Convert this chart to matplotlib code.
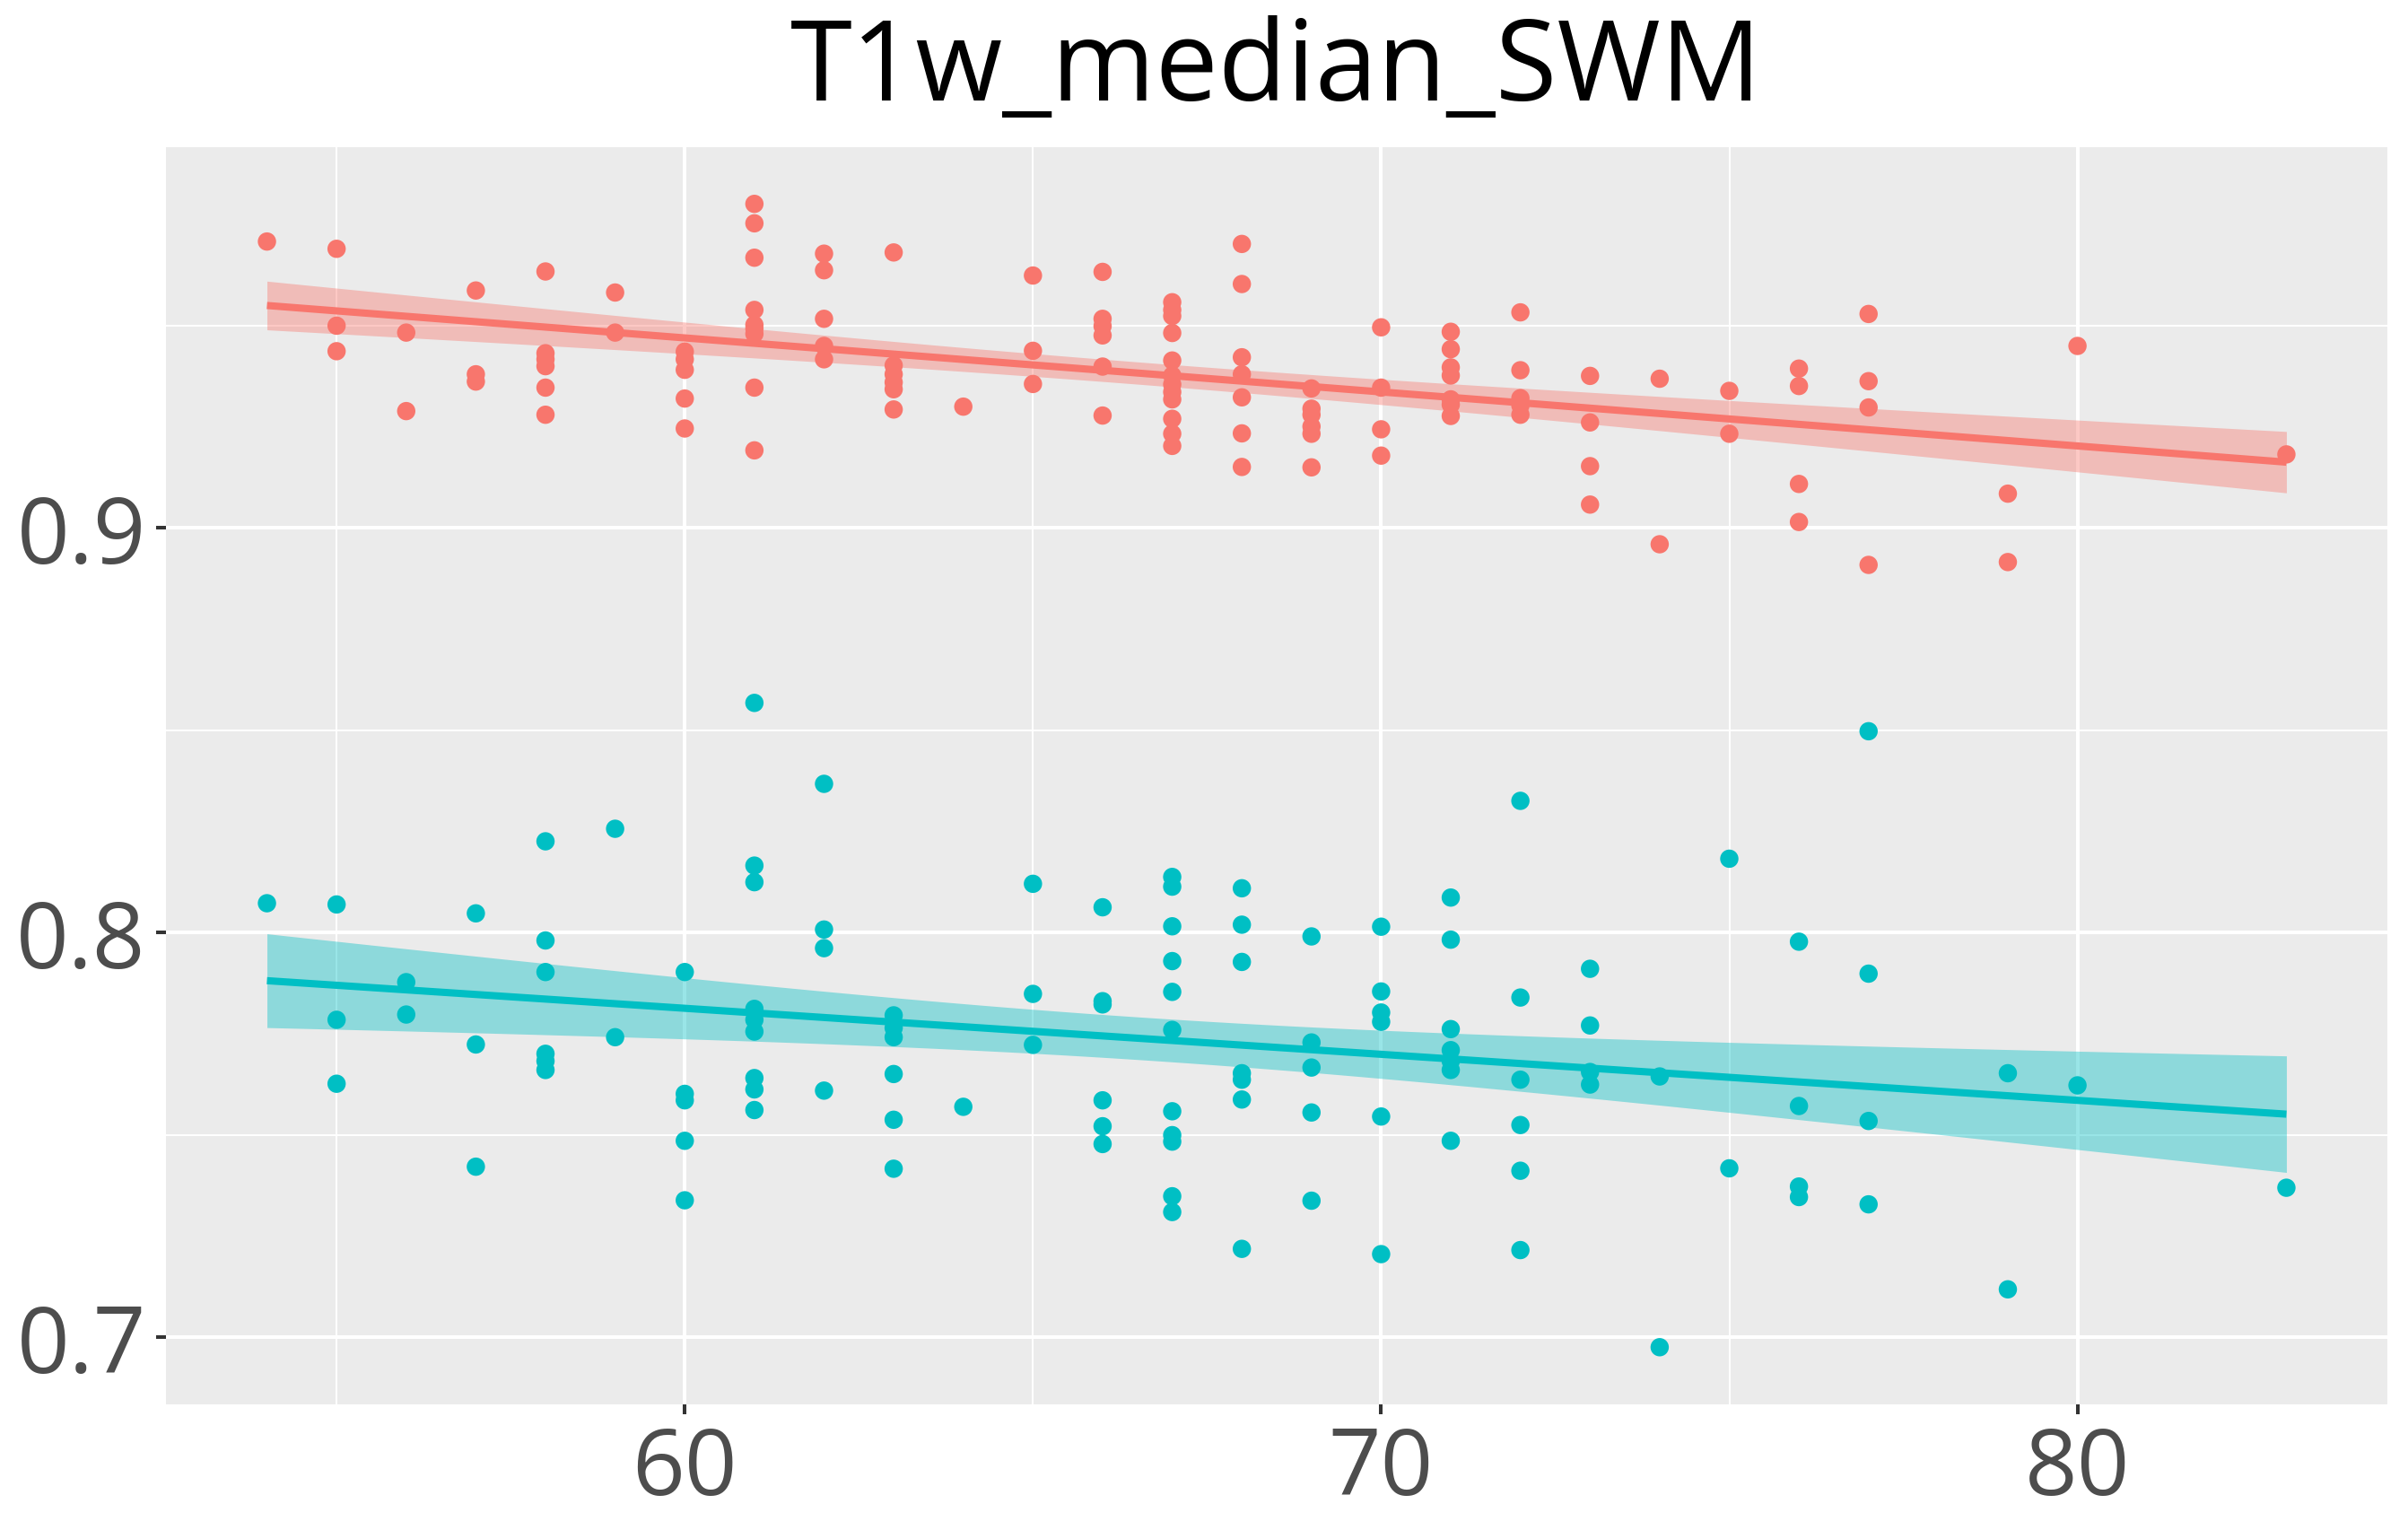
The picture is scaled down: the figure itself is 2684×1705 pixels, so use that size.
import numpy as np
import matplotlib
matplotlib.use("Agg")
import matplotlib.pyplot as plt

# ---------------- data ----------------
title = "T1w_median_SWM"

red_ages = [54, 55, 56, 57, 58, 59, 60, 61, 62, 63, 64, 65, 66, 67, 68, 69, 70,
            71, 72, 73, 74, 75, 76, 77, 79, 80, 83]
red_values = [
    [0.9708],
    [0.969, 0.950, 0.9437],
    [0.9483, 0.9289],
    [0.9587, 0.938, 0.9362],
    [0.9634, 0.9432, 0.9417, 0.940, 0.9347, 0.928],
    [0.9582, 0.9483],
    [0.9436, 0.9417, 0.9391, 0.932, 0.9246],
    [0.9801, 0.9753, 0.9668, 0.9539, 0.9502, 0.9493, 0.948, 0.9347, 0.9192],
    [0.9678, 0.9637, 0.9517, 0.945, 0.9417],
    [0.9681, 0.9402, 0.9380, 0.9360, 0.9343, 0.9293],
    [0.930],
    [0.9624, 0.9438, 0.9356],
    [0.9633, 0.9517, 0.9499, 0.9476, 0.9399, 0.9278],
    [0.9558, 0.9539, 0.9524, 0.9482, 0.9414, 0.9377, 0.9355, 0.9336, 0.9318, 0.927, 0.9233, 0.9203],
    [0.9702, 0.9603, 0.9422, 0.938, 0.9323, 0.9234, 0.9151],
    [0.9345, 0.9295, 0.928, 0.9251, 0.9233, 0.915],
    [0.9496, 0.9347, 0.9244, 0.9179],
    [0.9485, 0.9442, 0.9397, 0.9377, 0.9318, 0.9305, 0.9277],
    [0.9533, 0.939, 0.9321, 0.9303, 0.928],
    [0.9376, 0.9261, 0.9153, 0.9058],
    [0.9369, 0.896],
    [0.9339, 0.9233],
    [0.9394, 0.9351, 0.9109, 0.9015],
    [0.9529, 0.9363, 0.9298, 0.8909],
    [0.9085, 0.8916],
    [0.945],
    [0.9182],
]

blue_ages = [54, 55, 56, 57, 58, 59, 60, 61, 62, 63, 64, 65, 66, 67, 68, 69, 70,
             71, 72, 73, 74, 75, 76, 77, 79, 80, 83]
blue_values = [
    [0.8073],
    [0.807, 0.7785, 0.7627],
    [0.7878, 0.7798],
    [0.8048, 0.7724, 0.7422],
    [0.8226, 0.7981, 0.7903, 0.7701, 0.7683, 0.7661],
    [0.8257, 0.7742],
    [0.7903, 0.7602, 0.7586, 0.7486, 0.7339],
    [0.8568, 0.8166, 0.8125, 0.7812, 0.7785, 0.7756, 0.7641, 0.7613, 0.7562],
    [0.8368, 0.8008, 0.7962, 0.761],
    [0.7796, 0.7765, 0.7742, 0.7651, 0.7538, 0.7417],
    [0.757],
    [0.8121, 0.7849, 0.7723],
    [0.8063, 0.7831, 0.7823, 0.7586, 0.7522, 0.7478],
    [0.8138, 0.8114, 0.8016, 0.793, 0.7854, 0.776, 0.7559, 0.75, 0.7484, 0.7349, 0.731],
    [0.811, 0.802, 0.7928, 0.7653, 0.7637, 0.7588, 0.7219],
    [0.7991, 0.7729, 0.7667, 0.7556, 0.7338],
    [0.8015, 0.7855, 0.7803, 0.778, 0.7546, 0.7206],
    [0.8087, 0.7983, 0.7762, 0.771, 0.7683, 0.7661, 0.7486],
    [0.8326, 0.784, 0.7637, 0.7525, 0.7412, 0.7216],
    [0.7911, 0.7771, 0.7656, 0.7625],
    [0.7645, 0.6976],
    [0.8183, 0.7418],
    [0.7978, 0.7572, 0.7373, 0.7347],
    [0.8498, 0.7899, 0.7535, 0.7329],
    [0.7653, 0.7119],
    [0.7623],
    [0.737],
]

x_ticks = [60, 70, 80]
y_ticks = [0.7, 0.8, 0.9]
x_minor = [55, 65, 75]
y_minor = [0.75, 0.85, 0.95]

groups = [
    (red_ages, red_values, "#F8766D"),
    (blue_ages, blue_values, "#00BFC4"),
]

# ---------------- figure ----------------
plt.rcParams['font.family'] = ['Open Sans', 'DejaVu Sans']
W, H, DPI = 2684, 1706, 200
fig = plt.figure(figsize=(W / DPI, H / DPI), dpi=DPI)
px_left, px_right, px_top, px_bottom = 185, 2661, 164.5, 1566
ax = fig.add_axes([px_left / W, 1 - px_bottom / H,
                   (px_right - px_left) / W, (px_bottom - px_top) / H])
ax.set_facecolor("#EBEBEB")
for s in ax.spines.values():
    s.set_visible(False)

T_CRIT = 1.984  # 95% t quantile, ~100 df

all_x, all_y = [], []
for ages, vals, col in groups:
    xs = np.array([a for a, v in zip(ages, vals) for _ in v], dtype=float)
    ys = np.array([y for v in vals for y in v], dtype=float)
    ax.scatter(xs, ys, s=54, color=col, edgecolors='none', zorder=3)
    n = len(xs)
    b, a = np.polyfit(xs, ys, 1)
    resid = ys - (a + b * xs)
    sigma = np.sqrt(np.sum(resid ** 2) / (n - 2))
    xg = np.linspace(xs.min(), xs.max(), 80)
    yg = a + b * xg
    se = sigma * np.sqrt(1.0 / n + (xg - xs.mean()) ** 2 / np.sum((xs - xs.mean()) ** 2))
    ax.fill_between(xg, yg - T_CRIT * se, yg + T_CRIT * se, color=col, alpha=0.4,
                    linewidth=0, zorder=4)
    ax.plot(xg, yg, color=col, linewidth=2.9, zorder=5, solid_capstyle='butt')
    all_x += list(xs)
    all_y += list(ys) + list(yg - T_CRIT * se) + list(yg + T_CRIT * se)

xmin, xmax = min(all_x), max(all_x)
ymin, ymax = min(all_y), max(all_y)
ax.set_xlim(xmin - 0.05 * (xmax - xmin), xmax + 0.05 * (xmax - xmin))
ax.set_ylim(ymin - 0.05 * (ymax - ymin), ymax + 0.05 * (ymax - ymin))

ax.set_xticks(x_ticks)
ax.set_xticklabels([str(t) for t in x_ticks])
ax.set_yticks(y_ticks)
ax.set_yticklabels([f"{t:.1f}" for t in y_ticks])
ax.set_xticks(x_minor, minor=True)
ax.set_yticks(y_minor, minor=True)
ax.grid(which='major', color='white', linewidth=1.45, zorder=0)
ax.grid(which='minor', color='white', linewidth=0.72, zorder=0)
ax.set_axisbelow(True)
ax.tick_params(which='major', length=4, width=1.45, color='#333333',
               labelsize=37, labelcolor='#4D4D4D', pad=4)
ax.tick_params(which='minor', length=0)

fig.text((px_left + px_right) / 2 / W, 1 - 112 / H, title, ha='center', va='baseline',
         fontsize=45, color='black')

fig.savefig("out.png", dpi=DPI)
